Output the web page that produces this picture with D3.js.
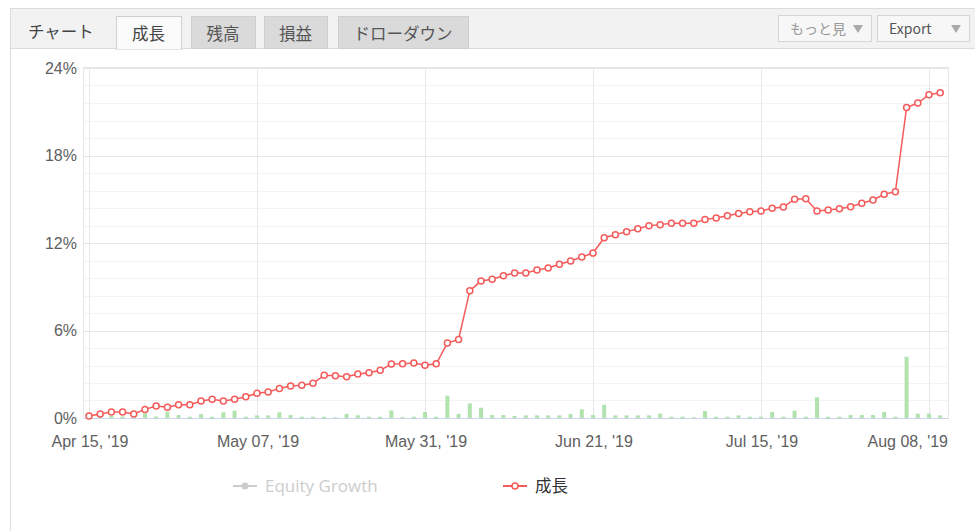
<!DOCTYPE html>
<html>
<head>
<meta charset="utf-8">
<title>成長</title>
<script src="https://d3js.org/d3.v7.min.js"></script>
<style>
  body { margin: 0; background: #fff; font-family: "Liberation Sans", Arial, sans-serif; }
  #chart { position: relative; width: 975px; height: 531px; }
</style>
</head>
<body>
<div id="chart"></div>
<script>
// daily growth, % (one point per trading day)
const growth = [
  0.14, 0.27, 0.41, 0.41, 0.27, 0.59, 0.82, 0.73, 0.91, 0.91,
  1.17, 1.28, 1.17, 1.28, 1.46, 1.69, 1.78, 2.03, 2.19, 2.24,
  2.38, 2.93, 2.90, 2.83, 3.02, 3.11, 3.27, 3.70, 3.72, 3.77,
  3.61, 3.72, 5.14, 5.39, 8.73, 9.39, 9.51, 9.76, 9.94, 9.94,
  10.15, 10.29, 10.54, 10.77, 11.04, 11.31, 12.36, 12.57, 12.78, 12.98,
  13.19, 13.26, 13.35, 13.35, 13.35, 13.62, 13.71, 13.87, 14.03, 14.15,
  14.19, 14.38, 14.47, 15.00, 15.04, 14.19, 14.26, 14.35, 14.49, 14.72,
  14.95, 15.34, 15.52, 21.29, 21.60, 22.17, 22.31
]
// green columns, %
const bars = [
  0.05, 0.10, 0.15, 0.10, 0.05, 0.32, 0.10, 0.43, 0.20, 0.09,
  0.27, 0.09, 0.39, 0.50, 0.09, 0.18, 0.18, 0.39, 0.20, 0.09,
  0.09, 0.09, 0.05, 0.28, 0.19, 0.09, 0.09, 0.52, 0.06, 0.09,
  0.41, 0.09, 1.53, 0.28, 1.00, 0.71, 0.20, 0.20, 0.14, 0.18,
  0.18, 0.18, 0.18, 0.27, 0.60, 0.20, 0.91, 0.18, 0.18, 0.18,
  0.18, 0.30, 0.09, 0.09, 0.05, 0.48, 0.09, 0.09, 0.18, 0.09,
  0.09, 0.41, 0.09, 0.50, 0.09, 1.42, 0.09, 0.09, 0.20, 0.20,
  0.20, 0.41, 0.09, 4.20, 0.30, 0.30, 0.18
]
const xLabels = ["Apr 15, '19", "May 07, '19", "May 31, '19", "Jun 21, '19", "Jul 15, '19", "Aug 08, '19"]
const xLabelIdx = [0, 15, 30, 45, 60, 75]
const yTicks = [0, 6, 12, 18, 24]
const tabs = ["成長", "残高", "損益", "ドローダウン"]

const W = 975, H = 531
const svg = d3.select("#chart").append("svg").attr("width", W).attr("height", H)

// ---- header / tabs
svg.append("rect").attr("x", 10.5).attr("y", 8.5).attr("width", W).attr("height", H)
  .style("fill", "#fff").style("stroke", "#dcdcdc")
svg.append("rect").attr("x", 10.5).attr("y", 8.5).attr("width", W).attr("height", 40)
  .style("fill", "#f2f2f2").style("stroke", "#dcdcdc")

const jp = '"Noto Sans CJK JP", "Noto Sans", sans-serif'
svg.append("text").attr("x", 28).attr("y", 38).text("チャート")
  .style("font-family", jp).style("font-size", "16.5px").style("fill", "#444")

const tabPos = [[116, 65], [191, 64], [264, 63], [338, 130]]
tabs.forEach((t, i) => {
  const [x, w] = tabPos[i]
  svg.append("rect").attr("x", x + 0.5).attr("y", 16.5).attr("width", w).attr("height", i == 0 ? 33 : 32)
    .style("fill", i == 0 ? "#fbfbfb" : "#dadada").style("stroke", "#cfcfcf")
  svg.append("text").attr("x", x + w / 2).attr("y", 40).attr("text-anchor", "middle").text(t)
    .style("font-family", jp).style("font-size", "16.5px").style("fill", i == 0 ? "#444" : "#555")
})
svg.append("line").attr("x1", 117).attr("x2", 181).attr("y1", 48.5).attr("y2", 48.5)
  .style("stroke", "#fbfbfb").style("stroke-width", 2)

const btns = [["もっと見", 778, 93, "#999"], ["Export", 877, 92, "#555"]]
btns.forEach(([t, x, w, c]) => {
  svg.append("rect").attr("x", x + 0.5).attr("y", 15.5).attr("width", w).attr("height", 26)
    .style("fill", "#f7f7f7").style("stroke", "#d5d5d5")
  svg.append("text").attr("x", x + 12).attr("y", 34).text(t)
    .style("font-family", jp).style("font-size", "14px").style("fill", c)
  svg.append("path").attr("d", `M${x + w - 18},25 h10 l-5,8 z`).style("fill", "#aaa")
})

// ---- plot
const xScale = d3.scaleLinear().domain([0, growth.length - 1]).range([89, 89 + 11.2 * (growth.length - 1)])
const yScale = d3.scaleLinear().domain([0, 24]).range([418, 68])

const minor = d3.range(0, 24.01, 1.2).filter(v => Math.round(v * 10) % 60 != 0)
svg.append("g").selectAll("line").data(minor).enter().append("line")
  .attr("x1", 84).attr("x2", 948)
  .attr("y1", d => Math.round(yScale(d)) + 0.5).attr("y2", d => Math.round(yScale(d)) + 0.5)
  .style("stroke", "#f3f3f3")
svg.append("g").selectAll("line").data(yTicks).enter().append("line")
  .attr("x1", 84).attr("x2", 948)
  .attr("y1", d => Math.round(yScale(d)) + 0.5).attr("y2", d => Math.round(yScale(d)) + 0.5)
  .style("stroke", "#e6e6e6")
svg.append("g").selectAll("line").data(xLabelIdx).enter().append("line")
  .attr("x1", d => Math.round(xScale(d)) + 0.5).attr("x2", d => Math.round(xScale(d)) + 0.5)
  .attr("y1", 68).attr("y2", 418)
  .style("stroke", "#e6e6e6")
svg.append("rect").attr("x", 83.5).attr("y", 67.5).attr("width", 865).attr("height", 351)
  .style("fill", "none").style("stroke", "#e6e6e6")

// green columns
svg.append("g").selectAll("rect").data(bars).enter().append("rect")
  .attr("x", (d, i) => xScale(i) - 2)
  .attr("y", d => yScale(d))
  .attr("width", 4)
  .attr("height", d => yScale(0) - yScale(d))
  .style("fill", "#b2e2ae")

svg.append("line").attr("x1", 84).attr("x2", 948).attr("y1", 418.5).attr("y2", 418.5)
  .style("stroke", "#ccd6eb")

// growth line
const line = d3.line().x((d, i) => xScale(i)).y(d => yScale(d))
svg.append("path").datum(growth).attr("d", line)
  .style("fill", "none").style("stroke", "#f45b5b").style("stroke-width", 1.5)
svg.append("g").selectAll("circle").data(growth).enter().append("circle")
  .attr("cx", (d, i) => xScale(i)).attr("cy", d => yScale(d)).attr("r", 3)
  .style("fill", "#fff").style("stroke", "#f45b5b").style("stroke-width", 1.5)

// axes labels
svg.append("g").selectAll("text").data(yTicks).enter().append("text")
  .attr("x", 77).attr("y", d => yScale(d) + 5.5).attr("text-anchor", "end")
  .text(d => d + "%").style("font-size", "16px").style("fill", "#606060")
// last label is kept inside the plot edge, like the original
const lastI = xLabelIdx.length - 1
svg.append("g").selectAll("text").data(xLabelIdx).enter().append("text")
  .attr("x", (d, i) => i == lastI ? 948 : xScale(d) + 1).attr("y", 447)
  .attr("text-anchor", (d, i) => i == lastI ? "end" : "middle")
  .text((d, i) => xLabels[i]).style("font-size", "16px").style("fill", "#606060")

// ---- legend
const lg = svg.append("g")
lg.append("line").attr("x1", 233).attr("x2", 257).attr("y1", 486).attr("y2", 486).style("stroke", "#ccc").style("stroke-width", 2)
lg.append("circle").attr("cx", 245).attr("cy", 486).attr("r", 3.5).style("fill", "#ccc")
lg.append("text").attr("x", 265).attr("y", 491.5).text("Equity Growth")
  .style("font-family", '"Open Sans", sans-serif').style("font-size", "17px").style("fill", "#ccc")
lg.append("line").attr("x1", 503).attr("x2", 527).attr("y1", 486).attr("y2", 486).style("stroke", "#f45b5b").style("stroke-width", 2)
lg.append("circle").attr("cx", 515).attr("cy", 486).attr("r", 3).style("fill", "#fff").style("stroke", "#f45b5b").style("stroke-width", 1.5)
lg.append("text").attr("x", 535).attr("y", 492).text("成長")
  .style("font-family", jp).style("font-size", "16.5px").style("fill", "#333")
</script>
</body>
</html>
